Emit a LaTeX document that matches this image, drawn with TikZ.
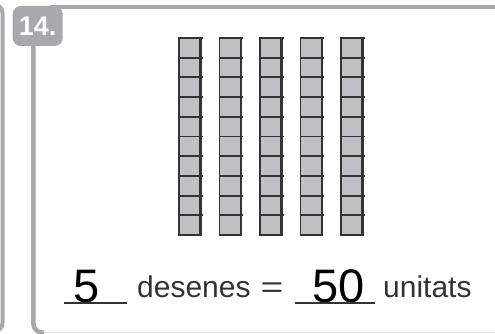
\documentclass[tikz,border=0pt]{standalone}
\usepackage{graphicx}
\usepackage{fontspec}
\setmainfont{Liberation Sans}
\usetikzlibrary{positioning}
\definecolor{exFrame}{HTML}{A8A9AD}
\definecolor{exRule} {HTML}{E6E6E8}
\definecolor{exRod}  {HTML}{C0C0C4}
\definecolor{exInk}  {HTML}{333333}

\begin{document}
\begin{tikzpicture}[x=1pt,y=-1pt,
    frameline/.style={draw=exFrame,line width=4.5pt},
    rodline/.style={draw=exInk,line width=1.8pt},
    word/.style={anchor=base west,inner sep=0pt,text=exInk,font=\fontsize{30}{32}\selectfont},
    answer/.style={anchor=base,inner sep=0pt,font=\fontsize{47}{48}\selectfont},
    blank/.style={anchor=base,inner sep=0pt,minimum height=0pt}]
  \useasboundingbox (0,0) rectangle (495,334);
  % frame of the previous exercise and of this one
  \draw[frameline,line width=4pt,rounded corners=8pt] (-12,5) -- (2.5,5) -- (2.5,331) -- (-12,331);
  \draw[exRule,line width=1.5pt] (42,332.5) -- (500,332.5);
  \draw[frameline,rounded corners=9pt] (33.3,40) -- (33.3,332.5) -- (44,332.5);
  \draw[frameline] (50,7) -- (500,7);
  \node (badge) [fill=exFrame,rounded corners=8pt,minimum width=50pt,minimum height=40pt,
                 inner sep=0pt,text=white,font=\bfseries\fontsize{27}{27}\selectfont] at (37.7,26) {14.};
  % five tens rods
  \foreach \i in {0,...,4} {
    \pgfmathsetmacro\rx{179+40.5*\i}
    \fill[exRod] (\rx,38) rectangle ++(22,197);
    \foreach \j in {0,...,9}
      \draw[rodline] (\rx,38+19.7*\j) -- ++(23.5,0);
    \draw[rodline] (\rx,38) rectangle ++(22,197);
    \draw[rodline,line width=2.6pt] (\rx+21.5,38) -- ++(0,197);
  }
  % answer line
  \node (tens)  [answer] at (86.5,302) {5};
  \node (blankA) [blank,minimum width=63pt] at (95.5,303) {};
  \node (desenes) [word] at (137,297) {desenes};
  \node (eq)    [word,anchor=base] at (272,297) {\scalebox{1.3}[1]{=}};
  \node (units) [answer] at (339,302) {50};
  \node (blankB) [blank,minimum width=80pt] at (335,303) {};
  \node (unitats) [word] at (383,297) {unitats};
  \draw[exInk,line width=1.2pt] (blankA.base west) -- (blankA.base east);
  \draw[exInk,line width=1.2pt] (blankB.base west) -- (blankB.base east);
\end{tikzpicture}
\end{document}
